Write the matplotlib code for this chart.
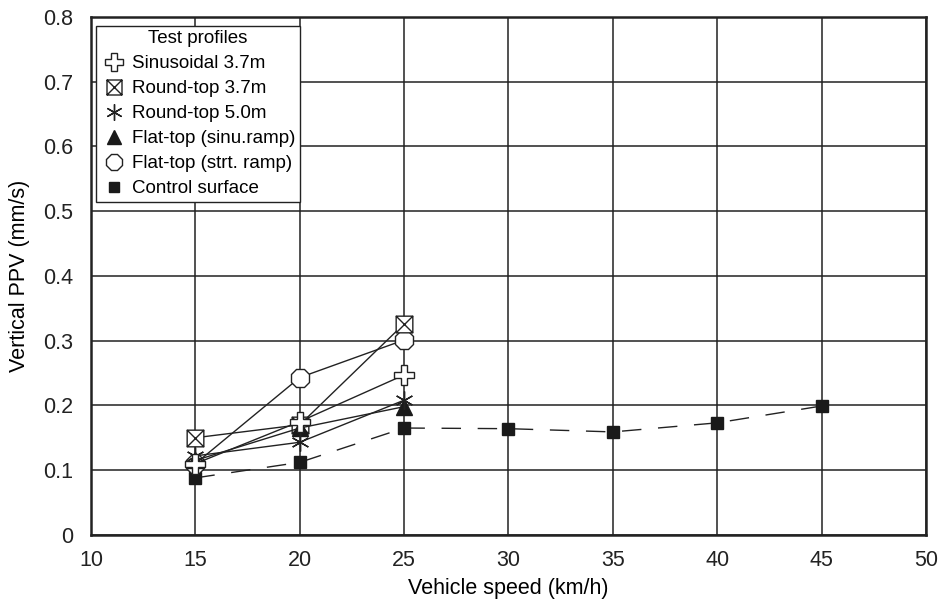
import numpy as np
import matplotlib
matplotlib.use("Agg")
from matplotlib import pyplot as plt
import matplotlib.lines as mlines
from matplotlib.path import Path

# values
speeds = [15, 20, 25]
sinusoidal = [0.110, 0.175, 0.247]
round_37 = [0.150, 0.170, 0.326]
round_50 = [0.122, 0.143, 0.208]
flat_sinu = [0.115, 0.165, 0.198]
flat_strt = [0.110, 0.243, 0.301]

control_speeds = [15, 20, 25, 30, 35, 40, 45]
control = [0.088, 0.112, 0.165, 0.164, 0.159, 0.173, 0.199]

plt.rcParams["font.family"] = ["Liberation Sans", "DejaVu Sans"]
plt.rcParams["font.size"] = 15.5

# boxed X marker
box_x = Path(
    [(-1, -1), (1, -1), (1, 1), (-1, 1), (-1, -1), (-1, -1), (1, 1), (-1, 1), (1, -1)],
    [Path.MOVETO, Path.LINETO, Path.LINETO, Path.LINETO, Path.CLOSEPOLY,
     Path.MOVETO, Path.LINETO, Path.MOVETO, Path.LINETO],
)

fig = plt.figure(figsize=(9.39, 6.03), dpi=100)
ax = fig.add_axes([0.097, 0.113, 0.889, 0.859])

lw = 1.0
ax.plot(control_speeds, control, color="#222222", lw=lw, dashes=(14, 12),
        marker="s", ms=8.5, mfc="#1a1a1a", mec="#1a1a1a", zorder=3)
h_strt, = ax.plot(speeds, flat_strt, color="#222222", lw=lw, marker="8", ms=14,
                  mfc="white", mec="#222222", mew=1.0, zorder=4)
h_r37, = ax.plot(speeds, round_37, color="#222222", lw=lw, marker=box_x, ms=12,
                 mfc="white", mec="#222222", mew=1.0, zorder=5)
h_sinu, = ax.plot(speeds, flat_sinu, color="#222222", lw=lw, marker="^", ms=11,
                  mfc="#1a1a1a", mec="#1a1a1a", zorder=5)
h_r50, = ax.plot(speeds, round_50, color="#222222", lw=lw, marker=(6, 2, 0), ms=13,
                 mec="#222222", mew=1.0, zorder=6)
h_sin, = ax.plot(speeds, sinusoidal, color="#222222", lw=lw, marker="P", ms=14.5,
                 mfc="white", mec="#222222", mew=1.0, zorder=7)
h_ctrl = ax.plot([], [], ls="none", marker="s", ms=8.5, mfc="#1a1a1a", mec="#1a1a1a")[0]

ax.set_xlim(10, 50)
ax.set_ylim(0, 0.8)
ax.set_xticks(np.arange(10, 51, 5))
ax.set_yticks(np.arange(0, 0.81, 0.1))
ax.set_yticklabels(["0"] + ["%.1f" % v for v in np.arange(0.1, 0.81, 0.1)])
ax.tick_params(length=0, colors="#222222")
ax.tick_params(axis="x", pad=11)
ax.tick_params(axis="y", pad=13)
ax.grid(True, color="#222222", lw=1.1)
ax.set_axisbelow(True)
for s in ax.spines.values():
    s.set_linewidth(1.8)
    s.set_color("#222222")

ax.set_xlabel("Vehicle speed (km/h)", labelpad=5)
ax.set_ylabel("Vertical PPV (mm/s)", labelpad=9)

handles = [h_sin, h_r37, h_r50, h_sinu, h_strt, h_ctrl]
labels = ["Sinusoidal 3.7m", "Round-top 3.7m", "Round-top 5.0m",
          "Flat-top (sinu.ramp)", "Flat-top (strt. ramp)", "Control surface"]
leg_handles = []
for h in handles:
    m = mlines.Line2D([], [], ls="none", marker=h.get_marker(), ms=h.get_markersize() * 0.9,
                      mfc=h.get_markerfacecolor(), mec=h.get_markeredgecolor(), mew=1.0)
    leg_handles.append(m)
leg = ax.legend(leg_handles, labels, title="Test profiles", loc="upper left",
                bbox_to_anchor=(0.006, 0.983), frameon=True, fancybox=False,
                edgecolor="#222222", framealpha=1, borderpad=0.25, labelspacing=0.42,
                handletextpad=0.25, handlelength=1.4, borderaxespad=0.0,
                fontsize=13.5, title_fontsize=13.5)
leg.get_frame().set_linewidth(1.0)

fig.savefig("out.png", dpi=100)
